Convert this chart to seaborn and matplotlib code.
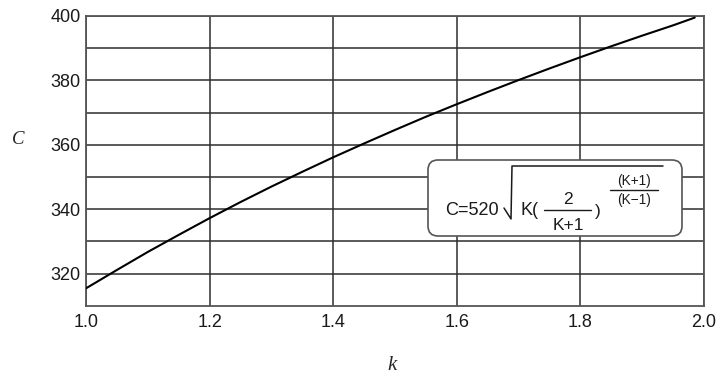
import numpy as np
import pandas as pd
import matplotlib
matplotlib.use("Agg")
import matplotlib.pyplot as plt
from matplotlib.patches import FancyBboxPatch
from matplotlib.lines import Line2D
import seaborn as sns

# valeurs
k_vals = [1.0, 1.05, 1.1, 1.15, 1.2, 1.25, 1.3, 1.35, 1.4, 1.45, 1.5,
          1.55, 1.6, 1.65, 1.7, 1.75, 1.8, 1.85, 1.9, 1.95, 1.985]
c_vals = [315.4, 321.1, 326.7, 332.0, 337.2, 342.2, 347.0, 351.6, 356.1, 360.4, 364.6,
          368.7, 372.6, 376.4, 380.1, 383.7, 387.2, 390.6, 393.9, 397.1, 399.5]
x_ticks = [1.0, 1.2, 1.4, 1.6, 1.8, 2.0]
x_labels = ["1.0", "1.2", "1.4", "1.6", "1.8", "2.0"]
y_ticks = [320, 340, 360, 380, 400]
y_minor = [330, 350, 370, 390]

df = pd.DataFrame({"k": k_vals, "C": c_vals})

sns.set_style("white")
plt.rcParams['font.family'] = ['Liberation Sans', 'DejaVu Sans']

W, H = 718, 380
fig = plt.figure(figsize=(W / 100, H / 100), dpi=100)


def px(x, y):
    return x / W, 1 - y / H


ax = fig.add_axes([86 / W, 1 - 305.7 / H, (704 - 86) / W, (305.7 - 16) / H])
sns.lineplot(data=df, x="k", y="C", color="black", linewidth=1.5, ax=ax, zorder=3)

ax.set_xlim(1.0, 2.0)
ax.set_ylim(310, 400)
ax.set_xticks(x_ticks)
ax.set_xticklabels(x_labels)
ax.set_yticks(y_ticks)
ax.set_yticks(y_minor, minor=True)
ax.tick_params(axis="both", which="both", length=0, labelsize=13, colors="#1a1a1a")
ax.tick_params(axis="x", pad=6)
ax.tick_params(axis="y", pad=4)
ax.grid(True, which="both", color="#2e2e2e", linewidth=1.1)
for s in ax.spines.values():
    s.set_color("#555555")
    s.set_linewidth(1.3)
ax.set_xlabel("")
ax.set_ylabel("")

# titres des axes
fig.text(*px(18, 139), "C", family="Liberation Serif", style="italic",
         fontsize=13.5, ha="center", va="center")
fig.text(*px(392, 366), "k", family="Liberation Serif", style="italic",
         fontsize=15, ha="center", va="center")

# encadré de la formule
x0, y0 = px(428, 236)
x1, y1 = px(682, 160)
box = FancyBboxPatch((x0, y0), x1 - x0, y1 - y0, transform=fig.transFigure,
                     boxstyle="round,pad=0,rounding_size=0.0139", mutation_aspect=W / H,
                     facecolor="white", edgecolor="#555555", linewidth=1.2, zorder=5)
fig.patches.append(box)

tc = "#1a1a1a"
fig.text(*px(445, 211), "C=520", fontsize=13.1, color=tc, ha="left", va="center", zorder=6)
fig.text(*px(520, 211), "K(", fontsize=13, color=tc, ha="left", va="center", zorder=6)
fig.text(*px(567.5, 200), "2", fontsize=12.5, color=tc, ha="center", va="center", zorder=6)
fig.text(*px(568, 226), "K+1", fontsize=12.5, color=tc, ha="center", va="center", zorder=6)
fig.text(*px(598, 212), ")", fontsize=12.5, color=tc, ha="center", va="center", zorder=6)
fig.text(*px(634, 181), "(K+1)", fontsize=9.8, color=tc, ha="center", va="center", zorder=6)
fig.text(*px(634, 200), "(K\u22121)", fontsize=9.8, color=tc, ha="center", va="center", zorder=6)


def seg(pts, lw=1.0):
    xs = [px(a, b)[0] for a, b in pts]
    ys = [px(a, b)[1] for a, b in pts]
    fig.add_artist(Line2D(xs, ys, transform=fig.transFigure, color=tc,
                          linewidth=lw, zorder=6))


# racine carrée et barres de fraction
seg([(504, 208), (511, 219), (512, 166), (663, 166)], lw=1.1)
seg([(544, 209.5), (591, 209.5)])
seg([(610, 189.5), (658, 189.5)])

fig.savefig("out.png", dpi=100)
